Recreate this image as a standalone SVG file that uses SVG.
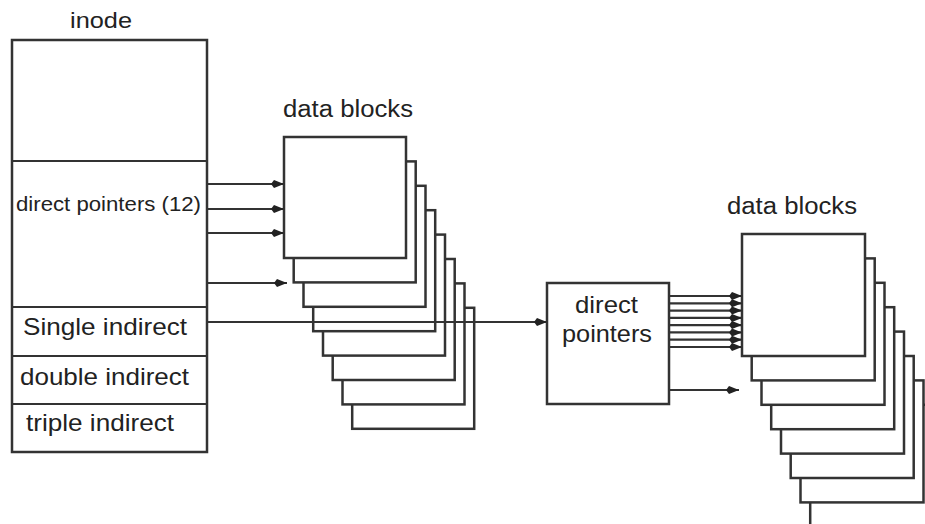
<svg xmlns="http://www.w3.org/2000/svg" width="925" height="524" viewBox="0 0 925 524">
<defs>
<style>
.box{fill:#fff;stroke:#333;stroke-width:2.5}
.lbl{font-family:"Liberation Sans",Arial,sans-serif;fill:#222}
.con{stroke:#333;stroke-width:2.2;fill:none}
</style>
<marker id="ah" markerUnits="userSpaceOnUse" markerWidth="15" markerHeight="11" refX="14" refY="5.5" orient="auto">
<path d="M1,5.5 L4,1.5 L14,5.5 L4,9.5 z" fill="#222"/>
</marker>
</defs>
<rect width="925" height="524" fill="#fff"/>

<g id="inode">
<text class="lbl" x="70" y="28" font-size="22" textLength="62" lengthAdjust="spacingAndGlyphs">inode</text>
<rect class="box" x="12" y="40" width="195" height="412"/>
<line class="con" x1="12" y1="161" x2="207" y2="161"/>
<line class="con" x1="12" y1="307" x2="207" y2="307"/>
<line class="con" x1="12" y1="356" x2="207" y2="356"/>
<line class="con" x1="12" y1="404" x2="207" y2="404"/>
<text class="lbl" x="16" y="211" font-size="20" textLength="185" lengthAdjust="spacingAndGlyphs">direct pointers (12)</text>
<text class="lbl" x="23" y="335" font-size="24" textLength="164" lengthAdjust="spacingAndGlyphs">Single indirect</text>
<text class="lbl" x="20" y="385" font-size="24" textLength="169" lengthAdjust="spacingAndGlyphs">double indirect</text>
<text class="lbl" x="26" y="431" font-size="24" textLength="148" lengthAdjust="spacingAndGlyphs">triple indirect</text>
</g>

<g id="data-blocks-1">
<text class="lbl" x="283" y="117" font-size="23" textLength="130" lengthAdjust="spacingAndGlyphs">data blocks</text>
<rect class="box" x="352.2" y="307.8" width="122" height="121"/>
<rect class="box" x="342.5" y="283.4" width="122" height="121"/>
<rect class="box" x="332.7" y="259" width="122" height="121"/>
<rect class="box" x="323" y="234.6" width="122" height="121"/>
<rect class="box" x="313.2" y="210.2" width="122" height="121"/>
<rect class="box" x="303.5" y="185.8" width="122" height="121"/>
<rect class="box" x="293.7" y="161.4" width="122" height="121"/>
<rect class="box" x="284" y="137" width="122" height="121"/>
</g>

<g id="direct-pointers">
<rect class="box" x="547" y="283" width="122" height="121"/>
<text class="lbl" x="575" y="313" font-size="24" textLength="63" lengthAdjust="spacingAndGlyphs">direct</text>
<text class="lbl" x="562" y="342" font-size="24" textLength="90" lengthAdjust="spacingAndGlyphs">pointers</text>
</g>

<g id="data-blocks-2">
<text class="lbl" x="727" y="214" font-size="23" textLength="130" lengthAdjust="spacingAndGlyphs">data blocks</text>
<rect class="box" x="810.2" y="404.8" width="123" height="122"/>
<rect class="box" x="800.5" y="380.4" width="123" height="122"/>
<rect class="box" x="790.7" y="356" width="123" height="122"/>
<rect class="box" x="781" y="331.6" width="123" height="122"/>
<rect class="box" x="771.2" y="307.2" width="123" height="122"/>
<rect class="box" x="761.5" y="282.8" width="123" height="122"/>
<rect class="box" x="751.7" y="258.4" width="123" height="122"/>
<rect class="box" x="742" y="234" width="123" height="122"/>
</g>

<g id="connectors">
<line class="con" x1="207" y1="184" x2="284" y2="184" marker-end="url(#ah)"/>
<line class="con" x1="207" y1="209" x2="284" y2="209" marker-end="url(#ah)"/>
<line class="con" x1="207" y1="233" x2="284" y2="233" marker-end="url(#ah)"/>
<line class="con" x1="207" y1="283" x2="287" y2="283" marker-end="url(#ah)"/>
<line class="con" x1="207" y1="322" x2="547" y2="322" marker-end="url(#ah)"/>
<line class="con" x1="669" y1="296" x2="742" y2="296" marker-end="url(#ah)"/>
<line class="con" x1="669" y1="303.3" x2="742" y2="303.3" marker-end="url(#ah)"/>
<line class="con" x1="669" y1="310.6" x2="742" y2="310.6" marker-end="url(#ah)"/>
<line class="con" x1="669" y1="317.9" x2="742" y2="317.9" marker-end="url(#ah)"/>
<line class="con" x1="669" y1="325.1" x2="742" y2="325.1" marker-end="url(#ah)"/>
<line class="con" x1="669" y1="332.4" x2="742" y2="332.4" marker-end="url(#ah)"/>
<line class="con" x1="669" y1="339.7" x2="742" y2="339.7" marker-end="url(#ah)"/>
<line class="con" x1="669" y1="347" x2="742" y2="347" marker-end="url(#ah)"/>
<line class="con" x1="669" y1="390" x2="739" y2="390" marker-end="url(#ah)"/>
</g>
</svg>
